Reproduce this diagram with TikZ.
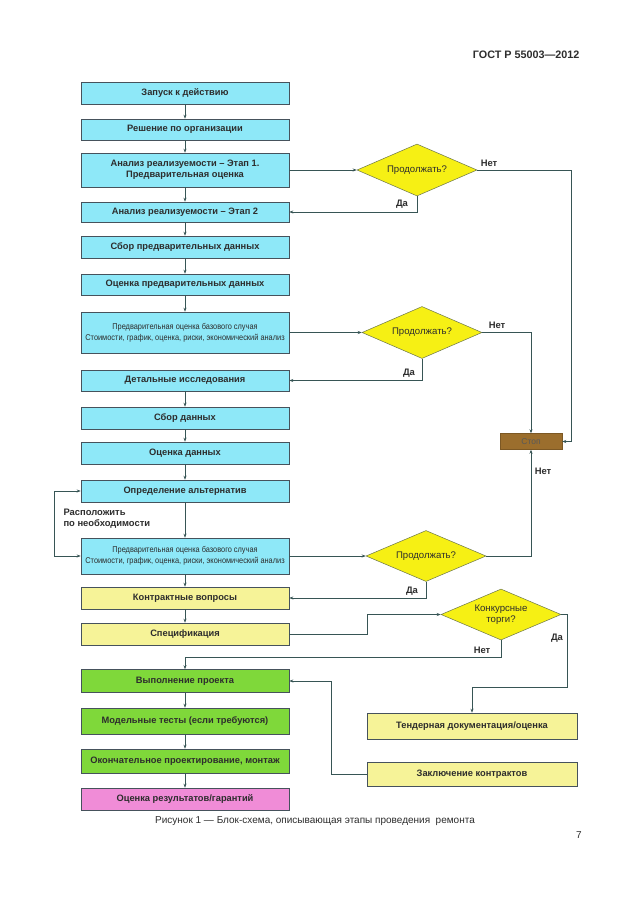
\documentclass[tikz,border=0pt]{standalone}
\usepackage{fontspec}
\setmainfont{Liberation Sans}
\newfontfamily\narrowfont[FakeStretch=0.88]{Liberation Sans}
\usetikzlibrary{shapes.geometric,arrows.meta}
\definecolor{cyanbox}{RGB}{142,232,248}
\definecolor{yelbox}{RGB}{246,243,152}
\definecolor{grnbox}{RGB}{127,216,58}
\definecolor{pinkbox}{RGB}{240,140,215}
\definecolor{decis}{RGB}{246,240,20}
\definecolor{stopc}{RGB}{155,110,45}
\definecolor{lnc}{RGB}{55,85,85}
\definecolor{bord}{RGB}{70,82,92}
\definecolor{txtc}{RGB}{45,45,45}
\tikzset{
  box/.style={draw=bord, line width=0.6pt, minimum width=208pt, inner sep=1pt, align=center,
    font=\bfseries\fontsize{9.3}{11}\selectfont, text=txtc},
  cbox/.style={box, fill=cyanbox},
  ybox/.style={box, fill=yelbox},
  gbox/.style={box, fill=grnbox},
  pbox/.style={box, fill=pinkbox},
  smalltxt/.style={font=\narrowfont\fontsize{8.4}{11}\selectfont},
  dec/.style={diamond, draw=bord!80!yellow, fill=decis, line width=0.5pt, minimum width=120pt,
    minimum height=52pt, inner sep=0pt, aspect=2.3, align=center,
    font=\fontsize{9.6}{11}\selectfont, text=txtc},
  conn/.style={draw=lnc, line width=0.6pt, -{Stealth[length=4pt,width=3pt]}},
  lbl/.style={font=\bfseries\fontsize{9.4}{11}\selectfont, text=txtc},
}
\begin{document}
\begin{tikzpicture}[x=1pt,y=-1pt]
\useasboundingbox (0,0) rectangle (630,913);
\fill[white] (0,0) rectangle (630,913);
\node[font=\bfseries\fontsize{10.8}{12}\selectfont, text=txtc, anchor=east] (hdr) at (583,55) {ГОСТ Р 55003—2012};
% left column
\node[cbox, minimum height=22pt] (b1) at (185,93) {Запуск к действию};
\node[cbox, minimum height=21pt] (b2) at (185,129.5) {Решение по организации};
\node[cbox, minimum height=34pt] (b3) at (185,170) {Анализ реализуемости – Этап 1.\\Предварительная оценка};
\node[cbox, minimum height=20pt] (b4) at (185,212) {Анализ реализуемости – Этап 2};
\node[cbox, minimum height=22pt] (b5) at (185,247) {Сбор предварительных данных};
\node[cbox, minimum height=21pt] (b6) at (185,284.5) {Оценка предварительных данных};
\node[cbox, minimum height=41pt, smalltxt] (b7) at (185,332.5) {Предварительная оценка базового случая\\Стоимости, график, оценка, риски, экономический анализ};
\node[cbox, minimum height=21pt] (b8) at (185,380.5) {Детальные исследования};
\node[cbox, minimum height=22pt] (b9) at (185,418) {Сбор данных};
\node[cbox, minimum height=22pt] (b10) at (185,453) {Оценка данных};
\node[cbox, minimum height=22pt] (b11) at (185,491) {Определение альтернатив};
\node[cbox, minimum height=36pt, smalltxt] (b12) at (185,556) {Предварительная оценка базового случая\\Стоимости, график, оценка, риски, экономический анализ};
\node[ybox, minimum height=22pt] (b13) at (185,598) {Контрактные вопросы};
\node[ybox, minimum height=22pt] (b14) at (185,634) {Спецификация};
\node[gbox, minimum height=23pt] (b15) at (185,681) {Выполнение проекта};
\node[gbox, minimum height=26pt] (b16) at (185,721) {Модельные тесты (если требуются)};
\node[gbox, minimum height=24pt] (b17) at (185,761) {Окончательное проектирование, монтаж};
\node[pbox, minimum height=22pt] (b18) at (185,799) {Оценка результатов/гарантий};
% right side
\node[ybox, minimum width=210pt, minimum height=26pt] (tend) at (472,726) {Тендерная документация/оценка};
\node[ybox, minimum width=210pt, minimum height=24pt] (contr) at (472,774) {Заключение контрактов};
\node[draw=stopc!80!black, fill=stopc, minimum width=62pt, minimum height=16pt, inner sep=0pt,
  font=\fontsize{8.5}{9}\selectfont, text=black!65] (stop) at (531,441.5) {Стоп};
\node[dec] (d1) at (417,170) {Продолжать?};
\node[dec] (d2) at (422,332.5) {Продолжать?};
\node[dec, minimum height=51pt] (d3) at (426,556) {Продолжать?};
\node[dec, minimum height=51pt] (d4) at (501,614.5) {Конкурсные\\торги?};
% vertical flow
\foreach \a/\b in {b1/b2,b2/b3,b3/b4,b4/b5,b5/b6,b6/b7,b8/b9,b9/b10,b10/b11,b11/b12,b12/b13,b13/b14,b15/b16,b16/b17,b17/b18}
  \draw[conn] (\a) -- (\b);
% decisions
\draw[conn] (b3.east) -- (d1.west);
\draw[conn] (d1.east) -- (571,170) -- (571,441.5) -- (stop.east);
\draw[conn] (d1.south) |- (b4.east);
\node[lbl] (n1) at (489,163) {Нет};
\node[lbl] (y1) at (402,204) {Да};
\draw[conn] (b7.east) -- (d2.west);
\draw[conn] (d2.east) -| (stop.north);
\draw[conn] (d2.south) |- (b8.east);
\node[lbl] (n2) at (497,325) {Нет};
\node[lbl] (y2) at (409,373) {Да};
\draw[conn] (b12.east) -- (d3.west);
\draw[conn] (d3.east) -| (stop.south);
\draw[conn] (d3.south) |- (b13.east);
\node[lbl] (n3) at (543,471) {Нет};
\node[lbl] (y3) at (412,591) {Да};
\draw[conn] (b14.east) -- (367,634) |- (d4.west);
\draw[conn] (d4.east) -- (567,614.5) -- (567,687) -| (tend.north);
\draw[conn] (d4.south) |- (185,657) -- (b15.north);
\node[lbl] (y4) at (557,638) {Да};
\node[lbl] (n4) at (482,650) {Нет};
\draw[conn] (contr.west) -- (331.5,774) |- (b15.east);
% loop
\draw[conn, {Stealth[length=4pt,width=3pt]}-{Stealth[length=4pt,width=3pt]}] (b11.west) -- (54,491) -- (54,556) -- (b12.west);
\node[lbl, align=left, anchor=west] (loopl) at (60,519) {Расположить\\по необходимости};
% caption
\node[font=\fontsize{10}{11}\selectfont, text=txtc] (cap) at (315,821) {Рисунок 1 — Блок-схема, описывающая этапы проведения\ \ ремонта};
\node[font=\fontsize{10}{11}\selectfont, text=txtc] (pg) at (579,835) {7};
\end{tikzpicture}
\end{document}
